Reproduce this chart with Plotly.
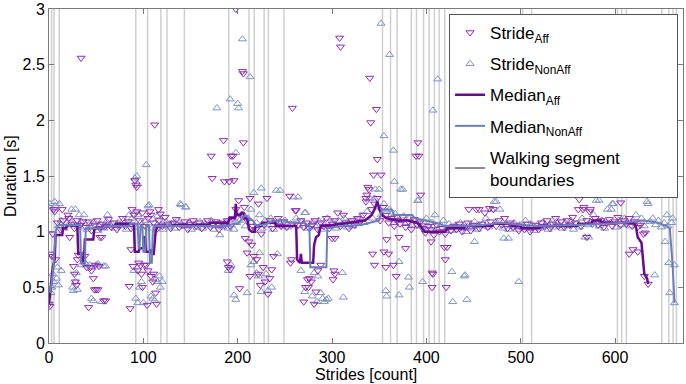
import plotly.graph_objects as go

# ---------------- data ----------------
# Affected-side strides: dense band (every 3rd stride) + scattered strides
aff_band_idx = list(range(9, 631, 3))
aff_band_dur = [
    1.08, 1.02, 1.10, 1.05, 1.12, 1.07, 1.03, 1.10, 1.06, 1.09,
    1.04, 1.09, 1.01, 1.06, 1.10, 1.03, 1.07, 1.05, 1.11, 1.04,
    1.08, 1.02, 1.06, 1.12, 1.05, 1.09, 1.03, 1.15, 1.18, 1.10,
    1.17, 1.05, 1.12, 1.15, 1.08, 1.02, 1.10, 1.05, 1.13, 1.07,
    1.03, 1.08, 1.11, 1.04, 1.06, 1.09, 1.02, 1.07, 1.10, 1.05,
    1.08, 1.03, 1.06, 1.10, 1.04, 1.07, 1.09, 1.02, 1.08, 1.06,
    1.10, 1.05, 1.12, 1.20, 1.28, 1.15, 1.22, 1.10, 1.30, 1.05,
    1.02, 1.25, 0.98, 1.06, 1.30, 1.10, 1.03, 1.08, 1.12, 1.05,
    1.09, 1.04, 1.32, 1.07, 1.19, 1.06, 1.10, 1.04, 1.08, 1.03,
    1.06, 1.10, 1.02, 1.08, 1.05, 1.12, 1.03, 1.07, 1.10, 1.17,
    1.05, 1.15, 1.08, 1.03, 1.10, 1.06, 1.12, 1.09, 1.15, 1.30,
    1.38, 1.20, 1.25, 1.30, 1.10, 1.22, 1.15, 1.08, 1.12, 1.05,
    1.10, 1.07, 1.13, 1.04, 1.09, 1.02, 1.11, 1.06, 1.08, 1.03,
    0.99, 1.05, 1.02, 0.97, 1.06, 1.00, 1.03, 0.98, 1.04, 1.01,
    1.05, 1.02, 1.07, 1.00, 1.04, 1.08, 1.01, 1.06, 1.20, 1.03,
    1.07, 1.17, 1.04, 1.09, 1.20, 1.05, 1.10, 1.06, 1.12, 1.03,
    1.08, 1.04, 1.06, 1.01, 1.05, 1.02, 1.07, 1.00, 1.04, 1.06,
    1.02, 1.08, 1.05, 1.10, 1.03, 1.07, 1.12, 1.05, 1.09, 1.04,
    1.10, 1.06, 1.13, 1.08, 1.20, 1.05, 1.22, 1.10, 1.18, 1.07,
    1.12, 1.06, 1.10, 1.04, 1.08, 1.11, 1.05, 1.09, 1.13, 1.06,
    1.10, 1.07, 1.12, 1.05, 1.09, 1.04, 1.06, 0.98,
]
aff_out_idx = [
    0, 1, 2, 3, 4, 5, 6, 7, 14, 20, 22, 26, 27, 28, 29, 30, 31, 34, 35, 38,
    40, 42, 44, 45, 47, 48, 50, 52, 49, 53, 54, 56, 58, 60,
    85, 86, 87, 88, 89, 91, 92, 93, 94, 95, 97, 98, 99, 101, 103, 104, 105,
    107, 108, 110, 111, 112, 113, 114, 116, 118,
    172, 173, 185, 186, 189, 190, 191, 192, 193, 195, 196, 198, 199, 202,
    205, 206, 206, 208, 210, 212, 213, 215, 217, 220, 222, 224, 227, 229,
    232, 234, 236, 238,
    256, 257, 258, 262, 270, 272, 274, 275, 276, 278, 281, 283, 285, 288,
    300, 301, 302, 303, 303, 308, 309,
    336, 337, 338, 340, 341, 343, 345, 344, 347, 348, 352, 355, 357, 358,
    360, 365, 368, 371, 378, 389, 391, 392, 394, 405, 406, 406, 407, 419,
    420, 421, 422,
    445, 456, 467, 562, 566, 570, 574, 606, 615, 619, 624, 631, 632, 635,
]
aff_out_dur = [
    0.35, 0.33, 0.80, 0.78, 0.98, 1.20, 1.18, 0.75, 1.20, 1.15, 0.95, 0.69, 0.62, 0.55, 0.52, 0.75, 0.79, 2.56, 0.80, 0.78,
    0.68, 0.32, 0.68, 0.65, 0.58, 0.48, 0.48, 0.48, 0.70, 0.69, 0.95, 0.95, 0.38, 0.38,
    0.51, 0.31, 0.84, 1.20, 0.69, 1.46, 1.42, 1.40, 0.65, 0.72, 0.70, 0.62, 0.50, 0.70, 0.70, 0.34, 0.65,
    1.18, 0.60, 0.55, 0.62, 1.96, 0.45, 0.35, 1.20, 1.16,
    1.68, 1.48, 1.82, 1.45, 0.73, 0.68, 1.45, 0.66, 1.68, 1.68, 1.46, 3.00, 1.60, 0.49,
    2.44, 2.42, 1.80, 0.94, 0.81, 0.91, 0.60, 0.88, 0.78, 0.75, 0.62, 0.52, 0.68, 0.55,
    0.44, 0.58, 0.66, 0.78,
    0.72, 0.75, 2.11, 1.19, 0.37, 0.50, 0.57, 0.50, 0.58, 0.55, 0.35, 0.46, 0.65, 0.70,
    0.94, 0.57, 0.65, 0.62, 0.94, 2.74, 2.66,
    1.27, 1.33, 1.40, 2.38, 1.98, 0.80, 0.70, 1.51, 2.10, 1.65, 1.51, 0.82, 0.68, 0.93,
    0.80, 0.70, 0.60, 0.95, 0.85, 1.68, 1.80, 1.68, 1.33, 0.91, 0.50, 0.63, 0.62, 0.86,
    0.75, 0.50, 0.86,
    1.20, 1.20, 1.21, 1.29, 1.20, 0.95, 1.20, 1.26, 0.80, 0.84, 0.82, 0.60, 0.99, 0.53,
]

# Non-affected-side strides
nonaff_band_idx = list(range(10, 656, 3))
nonaff_band_dur = [
    1.05, 1.10, 1.03, 1.08, 1.12, 1.06, 1.20, 1.04, 1.09, 1.15,
    1.02, 1.07, 1.04, 1.08, 1.01, 1.06, 1.03, 1.09, 1.05, 1.07,
    1.03, 1.08, 1.05, 1.10, 1.02, 1.06, 1.12, 1.04, 1.15, 1.08,
    1.05, 1.10, 1.24, 1.03, 1.08, 1.14, 1.06, 1.02, 1.09, 1.04,
    1.07, 1.03, 1.10, 1.25, 1.05, 1.22, 1.08, 1.02, 1.06, 1.04,
    1.09, 1.03, 1.07, 1.05, 1.10, 1.02, 1.06, 0.97, 1.04, 1.08,
    1.03, 1.06, 1.02, 1.08, 1.10, 1.15, 1.05, 1.12, 1.20, 1.35,
    1.08, 1.15, 1.03, 1.10, 1.06, 1.12, 1.02, 1.37, 1.09, 1.05,
    1.10, 1.04, 1.07, 1.31, 1.12, 1.05, 1.09, 1.17, 1.03, 1.06,
    1.08, 1.04, 1.10, 1.02, 1.06, 1.12, 1.05, 1.08, 1.03, 1.10,
    1.06, 1.12, 1.04, 1.09, 1.05, 1.10, 1.07, 1.14, 1.08, 1.18,
    1.30, 1.12, 1.38, 1.22, 1.15, 1.25, 1.18, 1.20, 1.12, 1.16,
    1.10, 1.38, 1.14, 1.08, 1.12, 1.06, 1.10, 1.28, 1.05, 1.09,
    1.12, 1.04, 1.08, 1.15, 1.02, 1.06, 1.10, 1.03, 1.07, 1.01,
    1.05, 1.02, 1.08, 1.04, 1.00, 1.06, 1.03, 1.09, 1.02, 1.05,
    1.07, 1.12, 1.04, 1.20, 1.27, 1.08, 1.20, 1.03, 1.06, 1.02,
    1.05, 1.08, 1.02, 1.06, 1.04, 1.10, 1.03, 1.07, 1.01, 1.05,
    1.03, 1.08, 1.05, 1.02, 1.07, 1.04, 1.09, 1.06, 1.03, 1.08,
    1.05, 1.10, 1.02, 1.07, 1.04, 1.12, 0.95, 1.06, 1.09, 1.15,
    1.28, 1.05, 1.10, 1.03, 1.20, 1.08, 1.25, 1.04, 1.10, 1.06,
    1.12, 1.08, 1.05, 1.10, 1.15, 1.07, 1.12, 1.05, 1.27, 1.09,
    1.12, 1.06, 1.10, 1.04, 1.08, 1.15,
]
nonaff_out_idx = [
    0, 1, 2, 3, 4, 5, 6, 7, 8, 9, 10, 11, 13,
    24, 25, 26, 28, 29, 30, 32, 34, 38, 40, 43, 45, 47, 50, 52, 56, 58, 60, 62,
    85, 90, 91, 93, 94, 92, 94, 96, 98, 100, 103, 105, 108, 110, 112, 113, 115,
    117, 118, 120, 140, 145,
    178, 190, 192, 193, 196, 198, 198, 200, 201, 205, 213, 210, 214, 217, 220,
    222, 223, 225, 230, 232, 236, 242, 225, 245,
    264, 267, 271, 272, 279, 281, 284, 285, 288, 290, 292, 294, 296, 311, 312,
    345, 350, 352, 355, 357, 358, 361, 365, 366, 371, 371, 375, 381, 382, 391,
    396, 407, 412, 427, 428, 440, 441, 443, 451, 474, 482, 487, 498,
    572, 583, 596, 597, 635, 642, 653, 656, 657, 658, 660, 663, 663, 661,
]
nonaff_out_dur = [
    1.22, 1.25, 0.45, 0.50, 0.62, 0.55, 1.27, 1.23, 0.58, 0.68, 0.52, 1.25, 0.65,
    1.20, 0.50, 0.47, 0.55, 0.63, 0.48, 1.15, 0.70, 0.72, 0.70, 0.70, 0.40, 0.38, 0.70, 0.71, 0.37, 0.69, 0.69, 1.15,
    1.15, 0.65, 1.48, 1.50, 1.43, 0.40, 0.36, 0.50, 0.55, 0.36, 1.60, 1.23, 0.42, 0.40, 0.38, 0.57, 0.55,
    0.60, 0.50, 0.55, 1.24, 1.22,
    2.11, 0.65, 2.19, 0.70, 0.43, 0.39, 1.71, 2.15, 2.11, 2.73, 2.39, 0.45, 0.70, 0.73, 0.63,
    0.60, 0.81, 0.46, 0.62, 0.47, 0.50, 0.80, 1.39, 1.37,
    1.31, 0.65, 0.46, 1.17, 0.42, 0.63, 0.37, 0.60, 0.45, 0.40, 0.37, 0.39, 0.40, 0.63, 0.41,
    1.30, 1.38, 2.87, 1.86, 0.47, 0.42, 2.59, 1.73, 1.45, 0.73, 0.43, 1.38, 0.59, 0.50, 1.28,
    0.55, 2.09, 2.37, 0.64, 0.37, 0.60, 0.61, 0.39, 0.91, 1.27, 0.94, 0.94, 0.55,
    0.95, 1.28, 1.20, 1.25, 1.25, 0.61, 0.91, 1.05, 0.72, 0.45, 1.08, 0.70, 0.36, 1.12,
]

# Running medians (corner points of the step lines)
med_aff_idx = [
    0, 2, 4, 6, 7, 14, 15, 18, 19, 30, 31, 34, 35, 37, 38, 47, 48, 58, 59, 70,
    71, 90, 91, 95, 96, 100, 101, 102, 103, 107, 108, 109, 111, 113, 115, 130,
    131, 170, 171, 190, 191, 197, 198, 199, 203, 204, 206, 207, 210, 212, 215,
    218, 219, 225, 226, 240, 241, 262, 263, 266, 267, 268, 280, 281, 283, 286,
    288, 300, 320, 335, 342, 345, 348, 350, 353, 358, 370, 380, 390, 394, 398,
    420, 422, 440, 441, 470, 471, 490, 491, 500, 501, 520, 521, 560, 561, 575,
    576, 585, 586, 620, 622, 624, 628, 631, 634, 635,
]
med_aff_dur = [
    0.35, 0.55, 0.68, 0.75, 0.97, 0.97, 1.03, 1.03, 1.06, 1.06, 0.80, 0.80, 0.72, 0.72, 0.93, 0.93, 1.03, 1.03, 1.05, 1.05,
    1.07, 1.07, 0.82, 0.82, 0.85, 0.85, 0.95, 0.95, 0.82, 0.82, 0.84, 0.80, 0.80, 1.00, 1.05, 1.05,
    1.06, 1.06, 1.08, 1.08, 1.12, 1.12, 1.25, 1.15, 1.15, 1.17, 1.17, 1.12, 1.12, 1.02, 1.00,
    1.00, 1.05, 1.05, 1.08, 1.08, 1.05, 1.05, 0.75, 0.72, 0.80, 0.72, 0.72, 0.88, 0.95, 0.97,
    1.05, 1.06, 1.08, 1.10, 1.15, 1.20, 1.27, 1.20, 1.15, 1.12, 1.10, 1.10, 1.08, 1.05, 1.00,
    1.00, 1.03, 1.03, 1.05, 1.05, 1.07, 1.07, 1.05, 1.05, 1.03, 1.03, 1.05, 1.05, 1.07, 1.07,
    1.10, 1.10, 1.08, 1.08, 1.05, 0.95, 0.90, 0.62, 0.58, 0.53,
]
med_nonaff_idx = [
    1, 3, 5, 7, 9, 11, 33, 34, 38, 39, 58, 59, 85, 86, 94, 95, 96, 97, 99, 100,
    102, 103, 106, 107, 109, 110, 112, 190, 195, 200, 203, 208, 212, 216, 220,
    230, 240, 250, 255, 270, 276, 277, 294, 295, 310, 330, 340, 350, 353, 363,
    366, 385, 388, 400, 410, 420, 440, 460, 480, 500, 520, 560, 590, 610, 630,
    645, 655, 658, 661, 663,
]
med_nonaff_dur = [
    0.45, 0.55, 0.72, 1.00, 1.05, 1.06, 1.06, 0.72, 0.72, 1.03, 1.03, 1.05, 1.05, 1.07, 1.07, 0.85, 0.85, 1.05, 1.05, 0.82,
    0.82, 1.05, 1.05, 0.72, 0.72, 1.00, 1.05, 1.05, 1.07, 1.07, 1.10, 1.15, 1.12, 1.10, 1.05,
    1.07, 1.10, 1.10, 1.08, 1.08, 1.05, 0.68, 0.68, 1.03, 1.05, 1.06, 1.08, 1.10, 1.20, 1.20,
    1.15, 1.15, 1.12, 1.10, 1.08, 1.05, 1.05, 1.06, 1.08, 1.06, 1.05, 1.06, 1.07, 1.08, 1.10,
    1.08, 1.05, 1.03, 0.70, 0.36,
]

# Walking segment boundaries (stride index)
boundaries = [
    2.8, 5.3, 10.9, 92, 104.5, 118.5, 125, 143.5, 190.5, 212, 217.5, 228, 232.5,
    249, 353.5, 362, 369, 384, 389.5, 397, 403, 408.5, 413.5, 419.5, 502, 511.5,
    602.5, 607, 612, 649.5, 657, 661.5, 665,
]

x_ticks = [0, 100, 200, 300, 400, 500, 600]
y_ticks = [0, 0.5, 1, 1.5, 2, 2.5, 3]
y_tick_text = ["0", "0.5", "1", "1.5", "2", "2.5", "3"]
x_title = "Strides [count]"
y_title = "Duration [s]"

# ---------------- styles ----------------
AFF_MARK = "#8e2bb5"
AFF_LINE = "#6a0a8e"
NON_MARK = "#8193c4"
NON_LINE = "#6b80b9"
BOUND = "#cfcfcf"
BOUND_LEG = "#666666"
FONT = "Liberation Sans, Arial, Helvetica, sans-serif"
PAD = "&nbsp;" * 11   # legend box is wider than its text in the reference

fig = go.Figure()

# boundaries as one broken line trace
bx, by = [], []
for b in boundaries:
    bx += [b, b, None]
    by += [0, 3, None]
fig.add_trace(go.Scatter(x=bx, y=by, mode="lines", line=dict(color=BOUND, width=1.5),
                         showlegend=False, hoverinfo="skip"))

fig.add_trace(go.Scatter(
    x=nonaff_band_idx + nonaff_out_idx, y=nonaff_band_dur + nonaff_out_dur,
    mode="markers", name="Stride<sub>NonAff</sub>", legendrank=2, legendgroup="b",
    marker=dict(symbol="triangle-up-open", size=7, color=NON_MARK, line=dict(width=1))))
fig.add_trace(go.Scatter(
    x=aff_band_idx + aff_out_idx, y=aff_band_dur + aff_out_dur,
    mode="markers", name="Stride<sub>Aff</sub>", legendrank=1, legendgroup="a",
    marker=dict(symbol="triangle-down-open", size=7, color=AFF_MARK, line=dict(width=1))))
fig.add_trace(go.Scatter(
    x=med_aff_idx, y=med_aff_dur, mode="lines", name="Median<sub>Aff</sub>", legendrank=3,
    legendgroup="c", line=dict(color=AFF_LINE, width=2.5)))
fig.add_trace(go.Scatter(
    x=med_nonaff_idx, y=med_nonaff_dur, mode="lines", name="Median<sub>NonAff</sub>", legendrank=4,
    legendgroup="d", line=dict(color=NON_LINE, width=2)))
fig.add_trace(go.Scatter(
    x=[-10, -9], y=[-1, -1], mode="lines", name="Walking segment" + PAD + "<br>boundaries",
    legendrank=5, legendgroup="e", line=dict(color=BOUND_LEG, width=1.5), hoverinfo="skip"))

axis_common = dict(
    showgrid=False, zeroline=False, showline=True, linecolor="#7a7a7a", linewidth=1,
    mirror="ticks", ticks="inside", ticklen=5, tickcolor="#7a7a7a", automargin=False,
    tickfont=dict(size=16, color="black", family=FONT),
)
fig.update_xaxes(range=[0, 672], tickvals=x_ticks, **axis_common)
fig.update_yaxes(range=[0, 3], tickvals=y_ticks, ticktext=y_tick_text, **axis_common)

fig.add_annotation(text=x_title, xref="paper", yref="paper", x=0.5, y=0,
                   xanchor="center", yanchor="middle", yshift=-31, showarrow=False,
                   font=dict(size=16, color="black", family=FONT))
fig.add_annotation(text=y_title, xref="paper", yref="paper", x=0, y=0.5,
                   xanchor="center", yanchor="middle", xshift=-39, textangle=-90, showarrow=False,
                   font=dict(size=16, color="black", family=FONT))

fig.update_layout(
    width=686, height=384,
    margin=dict(l=49, r=3, t=9, b=41, autoexpand=False),
    paper_bgcolor="white", plot_bgcolor="white",
    font=dict(family=FONT, size=16, color="black"),
    showlegend=True,
    legend=dict(x=0.631, y=0.985, xanchor="left", yanchor="top",
                bgcolor="white", bordercolor="#555555", borderwidth=1,
                font=dict(size=17, family=FONT, color="black"),
                traceorder="grouped", tracegroupgap=6, itemwidth=30),
)

fig.write_html("out.html", config={"displayModeBar": False},
               post_script="document.body.style.margin='0';")
